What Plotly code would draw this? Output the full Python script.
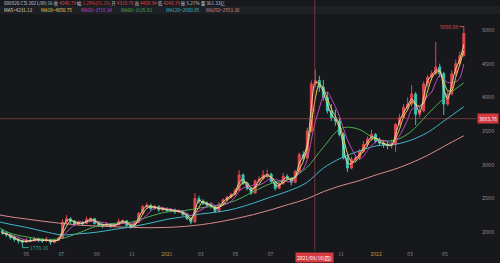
import pandas as pd
import plotly.graph_objects as go

# ---------------- data (weekly candles) ----------------
week_start = "2020-03-20"
n_weeks = 116
opens = [2020,1990,1960,1920,1890,1870,1850,1880,1870,1900,1880,1870,1890,1850,1880,1910,
         2150,2200,2160,2120,2140,2130,2190,2200,2130,2110,2100,2120,2090,2110,2160,2170,
         2100,2070,2150,2280,2380,2400,2350,2380,2330,2350,2320,2330,2300,2310,2260,2200,
         2150,2500,2450,2430,2400,2380,2310,2420,2480,2520,2560,2620,2850,2720,2650,2580,
         2760,2790,2850,2860,2750,2650,2720,2830,2800,2740,2900,3150,3100,3500,4200,4250,
         4150,4000,3800,3700,3650,3450,3100,2950,3080,3100,3200,3300,3380,3450,3350,3320,
         3300,3280,3300,3600,3700,3850,3900,4050,3750,3800,4200,4300,4350,4450,4350,3900,
         4050,4350,4500,4620]
highs = [2040,2010,1980,1950,1910,1890,1910,1920,1930,1920,1910,1930,1900,1900,1930,2190,
         2250,2220,2180,2170,2160,2230,2220,2210,2150,2130,2150,2130,2130,2200,2190,2180,
         2120,2170,2300,2400,2440,2420,2410,2400,2380,2370,2360,2350,2340,2320,2280,2220,
         2580,2540,2490,2460,2440,2390,2440,2500,2540,2580,2650,2920,2870,2740,2670,2780,
         2830,2920,2930,2880,2760,2740,2880,2860,2810,2920,3180,3200,3550,4250,4410,4320,
         4260,4080,3900,3820,3700,3480,3150,3120,3150,3230,3350,3420,3520,3470,3400,3370,
         3340,3370,3620,3760,3900,4000,4180,4080,3860,4240,4330,4400,4820,4500,4380,4100,
         4400,4560,4680,5050.08]
lows = [1960,1930,1890,1860,1830,1770.16,1840,1850,1860,1850,1840,1860,1810,1830,1870,1900,
        2120,2120,2090,2100,2090,2120,2150,2110,2080,2060,2090,2060,2070,2100,2120,2080,
        2050,2060,2140,2260,2340,2320,2330,2300,2310,2290,2290,2270,2280,2240,2180,2120,
        2140,2420,2400,2370,2350,2290,2300,2400,2450,2500,2540,2610,2700,2620,2550,2570,
        2730,2770,2800,2730,2620,2640,2700,2770,2690,2730,2890,3060,3090,3480,4150,4080,
        3950,3760,3650,3580,3420,3080,2890,2930,3040,3070,3180,3260,3350,3320,3280,3250,
        3230,3240,3190,3580,3680,3800,3860,3590,3700,3780,4150,4250,4330,4300,3740,3870,
        4030,4320,4470,4600]
closes = [1990,1960,1920,1890,1870,1850,1880,1870,1900,1880,1870,1890,1850,1880,1910,2150,
          2200,2160,2120,2140,2130,2190,2200,2130,2110,2100,2120,2090,2110,2160,2170,2100,
          2070,2150,2280,2380,2400,2350,2380,2330,2350,2320,2330,2300,2310,2260,2200,2150,
          2500,2450,2430,2400,2380,2310,2420,2480,2520,2560,2620,2850,2720,2650,2580,2760,
          2790,2850,2860,2750,2650,2720,2830,2800,2740,2900,3150,3100,3500,4200,4250,4150,
          4000,3800,3700,3650,3450,3100,2950,3080,3100,3200,3300,3380,3450,3350,3320,3300,
          3280,3300,3600,3700,3850,3900,4050,3750,3800,4200,4300,4350,4450,4350,3900,4050,
          4350,4500,4620,4950]

ma_dates = ["2020-03-16","2020-04-01","2020-05-01","2020-06-01","2020-07-01","2020-08-01",
            "2020-09-01","2020-10-01","2020-11-01","2020-12-01","2021-01-01","2021-02-01",
            "2021-03-01","2021-04-01","2021-05-01","2021-06-01","2021-07-01","2021-08-01",
            "2021-09-01","2021-10-01","2021-11-01","2021-12-01","2022-01-01","2022-02-01",
            "2022-03-01","2022-04-01","2022-05-01","2022-06-03"]
ma60 = [2060,1990,1930,1895,1905,1990,2090,2130,2150,2230,2300,2320,2360,2400,2470,2600,
        2720,2780,2950,3260,3540,3530,3380,3360,3480,3750,4000,4215]
ma120 = [2150,2120,2070,2010,1960,1975,2000,2040,2080,2130,2190,2230,2270,2300,2350,2430,
         2520,2610,2730,2950,3100,3200,3280,3300,3360,3480,3660,3860]
ma250 = [2255,2230,2195,2160,2130,2105,2090,2080,2070,2065,2070,2085,2110,2150,2200,2260,
         2330,2410,2490,2600,2690,2760,2850,2930,3020,3140,3280,3430]

tick_vals = ["2020-05-01","2020-07-01","2020-09-01","2020-11-01","2021-01-01","2021-03-01",
             "2021-05-01","2021-07-01","2021-11-01","2022-01-01","2022-03-01","2022-05-01"]
tick_text = ["05","07","09","11","2021","03","05","07","11","2022","03","05"]

header_vals = {"code": "000820.CSI", "date": "2021/09/16", "close": "4240.79",
               "chg": "1.29%(55.15)", "open": "4318.79", "high": "4409.94",
               "low": "4240.79", "amp": "5.27%", "vol": "361.33亿"}
ma_labels = ["MA5=4231.12", "MA10=4050.75", "MA20=3719.34", "MA60=3135.83",
             "MA120=2880.85", "MA250=2553.30"]

cross_date = "2021-09-16"
cross_price = 3683.76
max_val, min_val = 5050.08, 1770.16

# ---------------- figure ----------------
BG = "#16181c"
UP = "#e2474b"
DOWN = "#3cc2b0"
C_MA5, C_MA10, C_MA20 = "#e6d3a8", "#e8d45a", "#c648c8"
C_MA60, C_MA120, C_MA250 = "#4caf50", "#3fb8c8", "#d88c8c"
GREY = "#8b8e94"

dates = pd.date_range(week_start, periods=n_weeks, freq="7D")
cl = pd.Series(closes, index=dates)
ma5 = cl.rolling(2, min_periods=1).mean()
ma10 = cl.rolling(3, min_periods=1).mean()
ma20 = cl.rolling(5, min_periods=1).mean()

fig = go.Figure()
for d, s, c in [(ma_dates, ma250, C_MA250), (ma_dates, ma120, C_MA120), (ma_dates, ma60, C_MA60)]:
    fig.add_trace(go.Scatter(x=d, y=s, mode="lines", line=dict(color=c, width=1, shape="spline"),
                             hoverinfo="skip", showlegend=False))
fig.add_trace(go.Candlestick(x=dates, open=opens, high=highs, low=lows, close=closes,
                             increasing=dict(line=dict(color=UP, width=1), fillcolor=UP),
                             decreasing=dict(line=dict(color=DOWN, width=1), fillcolor=DOWN),
                             whiskerwidth=0, showlegend=False))
for s, c in [(ma20, C_MA20), (ma10, C_MA10), (ma5, C_MA5)]:
    fig.add_trace(go.Scatter(x=s.index, y=s.values, mode="lines",
                             line=dict(color=c, width=1, shape="spline", smoothing=0.8),
                             hoverinfo="skip", showlegend=False))

H = 230.0  # plot height in px
def py(px):  # pixel row -> paper y
    return (250 - px) / H
W = 477.0
def pxp(px):
    return px / W

FONT = "Noto Sans CJK SC, Noto Sans, sans-serif"

shapes = [
    dict(type="rect", xref="paper", yref="paper", x0=0, x1=500 / W, y0=py(14), y1=py(6),
         fillcolor="#1d2024", line=dict(width=0), layer="below"),
    dict(type="line", xref="x", yref="paper", x0=cross_date, x1=cross_date, y0=py(251), y1=py(0),
         line=dict(color="rgba(190,80,80,0.55)", width=1)),
    dict(type="line", xref="paper", yref="y", x0=0, x1=1, y0=cross_price, y1=cross_price,
         line=dict(color="rgba(190,80,80,0.55)", width=1)),
]

lab = "#c9cbcf"
red = "#e04a4a"
hv = header_vals
h1 = (f"<span style='color:{lab}'>{hv['code']} {hv['date']} 收 </span><span style='color:{red}'>{hv['close']}</span>"
      f"<span style='color:{lab}'> 幅 </span><span style='color:{red}'>{hv['chg']}</span>"
      f"<span style='color:{lab}'> 开 </span><span style='color:{red}'>{hv['open']}</span>"
      f"<span style='color:{lab}'> 高 </span><span style='color:{red}'>{hv['high']}</span>"
      f"<span style='color:{lab}'> 低 </span><span style='color:{red}'>{hv['low']}</span>"
      f"<span style='color:{lab}'> 振 {hv['amp']} 量 {hv['vol']}</span>")
annotations = [dict(text=h1, xref="paper", yref="paper", x=pxp(2), y=py(4), xanchor="left",
                    yanchor="middle", showarrow=False, font=dict(size=4.6, family=FONT))]
ma_x = [2, 39, 79, 119, 164, 204]
for t, xx, c in zip(ma_labels, ma_x, [C_MA5, C_MA10, C_MA20, C_MA60, C_MA120, C_MA250]):
    annotations.append(dict(text=t, xref="paper", yref="paper", x=pxp(xx), y=py(10.5),
                            xanchor="left", yanchor="middle", showarrow=False,
                            font=dict(size=4.6, family=FONT, color=c)))
annotations += [
    dict(text="2021/09/16(四)", xref="x", yref="paper", x=cross_date, y=py(257), xanchor="center",
         yanchor="middle", showarrow=False, bgcolor="#d6393e", borderpad=1,
         font=dict(size=5, family=FONT, color="#ffffff")),
    dict(text=f"{cross_price:.2f}", xref="paper", yref="y", x=pxp(487.5), y=cross_price,
         xanchor="center", yanchor="middle", showarrow=False, bgcolor="#d6393e", borderpad=1,
         font=dict(size=5, family=FONT, color="#ffffff")),
    dict(text=f"{max_val:.2f}", x=dates[-1], y=max_val, xref="x", yref="y", showarrow=True,
         arrowhead=0, arrowwidth=1, arrowcolor=red, ax=-15, ay=0,
         font=dict(size=5, family=FONT, color=red)),
    dict(text=f"{min_val:.2f}", x=dates[5], y=min_val, xref="x", yref="y", showarrow=True,
         arrowhead=0, arrowwidth=1, arrowcolor="#3aa88f", ax=17, ay=0,
         font=dict(size=5, family=FONT, color="#3aa88f")),
]

ticktext = [f"<span style='color:#c8913a'>{t}</span>" if len(t) == 4 else t for t in tick_text]

fig.update_layout(
    width=500, height=263, margin=dict(l=0, r=23, t=20, b=13),
    paper_bgcolor=BG, plot_bgcolor=BG, showlegend=False,
    font=dict(family=FONT, color=GREY, size=5),
    shapes=shapes, annotations=annotations,
    xaxis=dict(type="date", range=["2020-03-16", "2022-06-26"], rangeslider=dict(visible=False),
               showgrid=False, zeroline=False, showline=False, tickvals=tick_vals,
               ticktext=ticktext, tickfont=dict(size=5, color=GREY), ticks="", ticklen=0),
    yaxis=dict(side="right", range=[1735, 5148], showgrid=False, zeroline=False, showline=False,
               tickvals=[2000, 2500, 3000, 3500, 4000, 4500, 5000],
               tickfont=dict(size=5.5, color=GREY), ticks="", ticklabelstandoff=4),
)

fig.write_html("out.html")
